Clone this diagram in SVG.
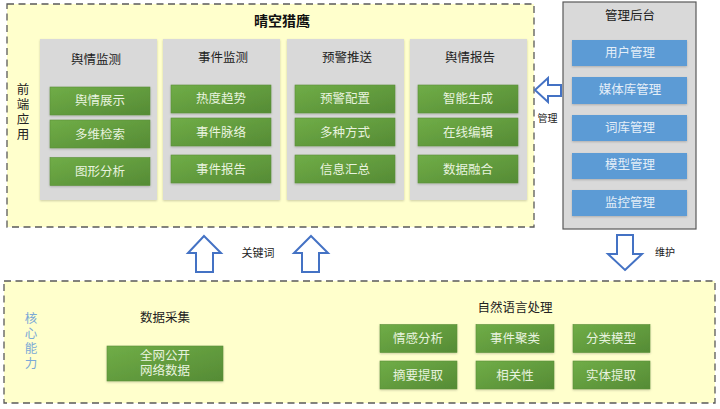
<svg xmlns="http://www.w3.org/2000/svg" width="720" height="409" viewBox="0 0 720 409">
<style>
text{font-family:"Noto Sans CJK SC","Liberation Sans",sans-serif;text-anchor:middle}
.zone{fill:#ffffcc;stroke:#595959;stroke-width:1.3;stroke-dasharray:7 4.5}
.panel{fill:#d9d9d9;filter:url(#sh)}
.g{fill:url(#gr);stroke:#5b8f3a;stroke-width:.6;filter:url(#sh)}
.b{fill:#5b9bd5;filter:url(#sh)}
.gt{fill:#e8f3df;font-size:12.5px}
.bt{fill:#e4eef8;font-size:12.5px}
.h{fill:#222;font-size:12.5px}
.s{fill:#222;font-size:10px}
.v{writing-mode:vertical-rl;letter-spacing:2.5px;font-size:12.5px}
.arrow{fill:#fff;stroke:#4472c4;stroke-width:2}
</style>
<defs>
<linearGradient id="gr" x1="0" y1="0" x2="1" y2="1"><stop offset="0" stop-color="#70ad47"/><stop offset="1" stop-color="#558b35"/></linearGradient>
<filter id="sh" x="-5%" y="-10%" width="110%" height="125%"><feDropShadow dx="0" dy="1" stdDeviation="1" flood-color="#000" flood-opacity=".2"/></filter>
</defs>
<g id="front">
<rect class="zone" x="7" y="4" width="527" height="223"/>
<text x="282" y="26" style="font-size:14px;font-weight:700" fill="#111">晴空猎鹰</text>
<text x="23" y="113" class="v" fill="#222">前端应用</text>
</g>
<g id="panel1">
<rect class="panel" x="40" y="39" width="117" height="161"/>
<text x="96" y="64" class="h">舆情监测</text>
<rect class="g" x="50" y="87" width="100" height="28"/><text x="100" y="105" class="gt">舆情展示</text>
<rect class="g" x="50" y="120" width="100" height="28"/><text x="100" y="139" class="gt">多维检索</text>
<rect class="g" x="50" y="157.500" width="100" height="28"/><text x="100" y="176" class="gt">图形分析</text>
</g>
<g id="panel2">
<rect class="panel" x="163" y="39" width="117" height="161"/>
<text x="223" y="62" class="h">事件监测</text>
<rect class="g" x="171" y="85" width="100" height="28"/><text x="221" y="103" class="gt">热度趋势</text>
<rect class="g" x="171" y="118" width="100" height="28"/><text x="221" y="137" class="gt">事件脉络</text>
<rect class="g" x="171" y="155" width="100" height="28"/><text x="221" y="174" class="gt">事件报告</text>
</g>
<g id="panel3">
<rect class="panel" x="287" y="39" width="117" height="161"/>
<text x="347" y="62" class="h">预警推送</text>
<rect class="g" x="295" y="85" width="100" height="28"/><text x="345" y="103" class="gt">预警配置</text>
<rect class="g" x="295" y="118" width="100" height="28"/><text x="345" y="137" class="gt">多种方式</text>
<rect class="g" x="295" y="155" width="100" height="28"/><text x="345" y="174" class="gt">信息汇总</text>
</g>
<g id="panel4">
<rect class="panel" x="410" y="39" width="117" height="161"/>
<text x="470" y="62" class="h">舆情报告</text>
<rect class="g" x="418" y="85" width="100" height="28"/><text x="468" y="103" class="gt">智能生成</text>
<rect class="g" x="418" y="118" width="100" height="28"/><text x="468" y="137" class="gt">在线编辑</text>
<rect class="g" x="418" y="155" width="100" height="28"/><text x="468" y="174" class="gt">数据融合</text>
</g>
<g id="admin">
<rect x="563" y="2" width="133" height="227" fill="#d9d9d9" stroke="#595959" stroke-width="1.2"/>
<text x="630" y="20" class="h">管理后台</text>
<rect class="b" x="572" y="40" width="115" height="26"/><text x="630" y="57" class="bt">用户管理</text>
<rect class="b" x="572" y="77" width="115" height="27"/><text x="630" y="94" class="bt">媒体库管理</text>
<rect class="b" x="572" y="115" width="115" height="26"/><text x="630" y="132" class="bt">词库管理</text>
<rect class="b" x="572" y="153" width="115" height="26"/><text x="630" y="169" class="bt">模型管理</text>
<rect class="b" x="572" y="190" width="115" height="26"/><text x="630" y="207" class="bt">监控管理</text>
</g>
<g id="core">
<rect class="zone" x="4" y="281" width="711" height="122"/>
<text x="31" y="342" class="v" fill="#7ba9d6">核心能力</text>
<text x="165" y="322" class="h">数据采集</text>
<rect class="g" x="107" y="346" width="116" height="35"/>
<text class="gt"><tspan x="165" y="360">全网公开</tspan><tspan x="165" y="375">网络数据</tspan></text>
<text x="515" y="312" class="h">自然语言处理</text>
<rect class="g" x="380" y="324.500" width="77" height="28"/><text x="418" y="343" class="gt">情感分析</text>
<rect class="g" x="476" y="324.500" width="78" height="28"/><text x="515" y="343" class="gt">事件聚类</text>
<rect class="g" x="573" y="324.500" width="77" height="28"/><text x="611" y="343" class="gt">分类模型</text>
<rect class="g" x="380" y="361" width="77" height="28"/><text x="418" y="380" class="gt">摘要提取</text>
<rect class="g" x="476" y="361" width="78" height="28"/><text x="515" y="380" class="gt">相关性</text>
<rect class="g" x="573" y="361" width="77" height="28"/><text x="611" y="380" class="gt">实体提取</text>
</g>
<g id="connectors">
<path class="arrow" d="M204 236L221 253H213V272H196V253H188Z"/>
<path class="arrow" d="M311 236L328 253H319V272H302V253H294Z"/>
<path class="arrow" d="M625 270L642 254H633V235H617V254H608Z"/>
<path class="arrow" d="M535 90L548 78V85H561V96H548V102Z"/>
<text x="258" y="257" style="font-size:11px;fill:#222">关键词</text>
<text x="547.500" y="122" class="s">管理</text>
<text x="665" y="256" class="s">维护</text>
</g>
</svg>
